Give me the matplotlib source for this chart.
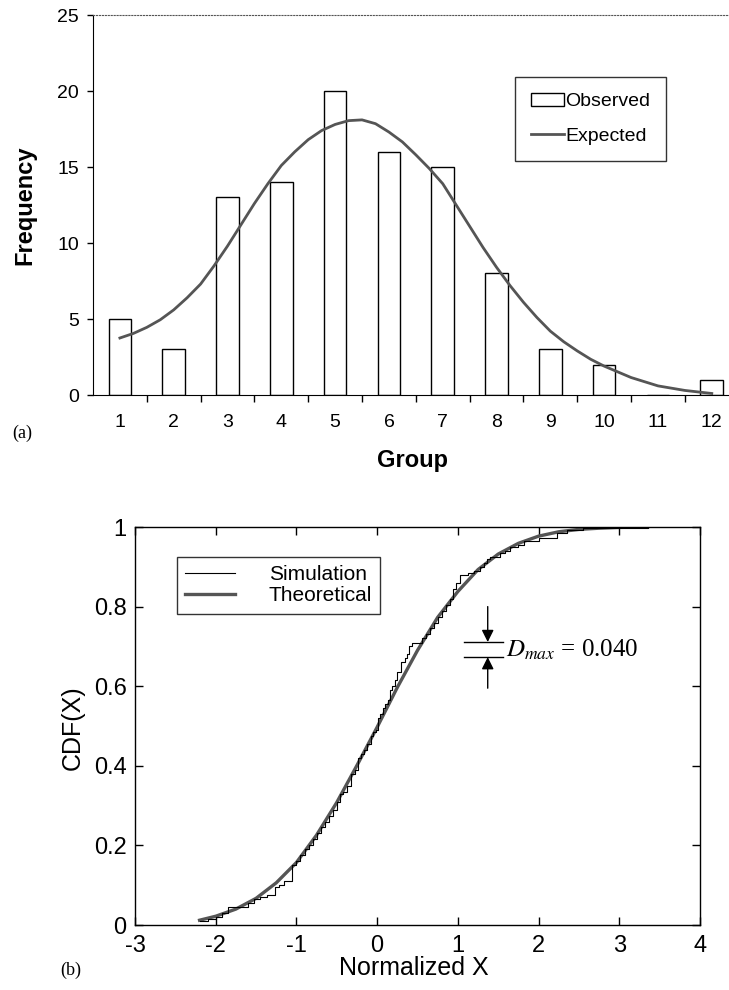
import numpy as np
import matplotlib
matplotlib.use("Agg")
import matplotlib.pyplot as plt
from matplotlib.ticker import FixedLocator

plt.rcParams["mathtext.fontset"] = "stix"
plt.rcParams["axes.unicode_minus"] = False

SANS   = ["Liberation Sans", "DejaVu Sans"]
NARROW = ["Liberation Sans Narrow", "Liberation Sans", "DejaVu Sans"]
SERIF  = ["Liberation Serif", "DejaVu Serif"]

# ── (a) histogram data ───────────────────────────────────────────────────────
groups   = [1, 2, 3, 4, 5, 6, 7, 8, 9, 10, 11, 12]
observed = [5, 3, 13, 14, 20, 16, 15, 8, 3, 2, 0, 1]

exp_x = [1, 1.25, 1.5, 1.75, 2, 2.25, 2.5, 2.75, 3, 3.25, 3.5, 3.75, 4, 4.25,
         4.5, 4.75, 5, 5.25, 5.5, 5.75, 6, 6.25, 6.5, 6.75, 7, 7.25, 7.5, 7.75,
         8, 8.25, 8.5, 8.75, 9, 9.25, 9.5, 9.75, 10, 10.5, 11, 11.5, 12]
exp_y = [3.75, 4.05, 4.45, 4.95, 5.6, 6.4, 7.3, 8.5, 9.8, 11.2, 12.6, 13.9,
         15.1, 16.0, 16.8, 17.4, 17.8, 18.05, 18.1, 17.85, 17.3, 16.65, 15.8,
         14.9, 13.9, 12.5, 11.1, 9.7, 8.4, 7.2, 6.1, 5.1, 4.2, 3.5, 2.9, 2.35,
         1.9, 1.15, 0.6, 0.3, 0.1]

# ── (b) CDF data ─────────────────────────────────────────────────────────────
sim_x = [-2.20, -2.10, -2.00, -1.92, -1.85, -1.60, -1.52, -1.45, -1.36, -1.27,
         -1.22, -1.15, -1.05, -1.00, -0.95, -0.90, -0.85, -0.80, -0.75, -0.70,
         -0.65, -0.60, -0.55, -0.50, -0.46, -0.42, -0.37, -0.32, -0.28, -0.24,
         -0.20, -0.16, -0.12, -0.08, -0.05, -0.02, 0.01, 0.04, 0.07, 0.10,
         0.13, 0.16, 0.19, 0.22, 0.25, 0.30, 0.34, 0.37, 0.40, 0.43, 0.56,
         0.60, 0.65, 0.70, 0.75, 0.80, 0.85, 0.90, 0.94, 0.98, 1.03, 1.13,
         1.20, 1.27, 1.32, 1.36, 1.40, 1.52, 1.58, 1.65, 1.75, 1.82, 2.00,
         2.23, 2.35, 2.55, 3.35]
sim_F = [0.010, 0.015, 0.020, 0.030, 0.045, 0.055, 0.065, 0.070, 0.075, 0.095,
         0.100, 0.110, 0.150, 0.160, 0.175, 0.190, 0.200, 0.215, 0.230, 0.245,
         0.260, 0.275, 0.290, 0.310, 0.330, 0.335, 0.350, 0.380, 0.390, 0.420,
         0.430, 0.440, 0.455, 0.475, 0.485, 0.490, 0.520, 0.530, 0.545, 0.555,
         0.565, 0.590, 0.600, 0.615, 0.636, 0.660, 0.670, 0.680, 0.700, 0.709,
         0.720, 0.730, 0.745, 0.760, 0.775, 0.790, 0.805, 0.820, 0.845, 0.860,
         0.880, 0.885, 0.890, 0.900, 0.910, 0.920, 0.925, 0.935, 0.940, 0.950,
         0.955, 0.965, 0.972, 0.985, 0.992, 0.997, 1.000]

theo_x = [-2.2, -2.0, -1.75, -1.5, -1.25, -1.0, -0.75, -0.5, -0.25, 0.0, 0.25,
          0.5, 0.75, 1.0, 1.25, 1.5, 1.75, 2.0, 2.25, 2.5, 2.75, 3.0, 3.35]
theo_F = [0.012, 0.022, 0.040, 0.067, 0.106, 0.157, 0.226, 0.308, 0.401, 0.497,
          0.597, 0.690, 0.773, 0.838, 0.893, 0.932, 0.959, 0.977, 0.988, 0.994,
          0.997, 0.999, 1.000]

W, H = 729, 990
fig = plt.figure(figsize=(W / 100, H / 100), dpi=100)

def fx(px): return px / W
def fy(py): return 1 - py / H

# ── (a) ──────────────────────────────────────────────────────────────────────
ax1 = fig.add_axes([fx(93), fy(395), 1 - fx(93), (395 - 15) / H])
bars = ax1.bar(groups, observed, width=0.42, facecolor="white", edgecolor="black",
               linewidth=1.0, label="Observed", zorder=2)
line, = ax1.plot(exp_x, exp_y, color="#555555", lw=2.0, label="Expected", zorder=3)
ax1.set_xlim(0.5, 12.32)
ax1.set_ylim(0, 25)
ax1.set_yticks([0, 5, 10, 15, 20, 25])
ax1.set_xticks(groups)
ax1.xaxis.set_minor_locator(FixedLocator(np.arange(1.5, 12, 1.0)))
ax1.tick_params(axis="x", which="major", length=0, pad=14, labelsize=14)
ax1.tick_params(axis="x", which="minor", length=5, width=1, direction="out")
ax1.tick_params(axis="y", length=4, width=1, direction="out", pad=6, labelsize=14)
for lab in ax1.get_xticklabels() + ax1.get_yticklabels():
    lab.set_family(SANS)
ax1.spines["right"].set_visible(False)
ax1.spines["top"].set_linestyle(":")
ax1.spines["top"].set_color("#555555")
leg1 = ax1.legend([bars, line], ["Observed", "Expected"], loc="upper left",
                  bbox_to_anchor=(fx(515), fy(77)),
                  bbox_transform=fig.transFigure, frameon=True, fancybox=False,
                  edgecolor="black", prop={"family": SANS, "size": 14},
                  handlelength=1.7, handletextpad=0.1, labelspacing=0.9,
                  borderpad=0.8, borderaxespad=0)
leg1.get_frame().set_linewidth(1.0)

fig.text(fx(25), fy(205), "Frequency", rotation=90, ha="center", va="center",
         family=SANS, fontsize=17, fontweight="bold")
fig.text(fx(412), fy(461), "Group", ha="center", va="center",
         family=SANS, fontsize=17, fontweight="bold")
fig.text(fx(12), fy(433), "(a)", ha="left", va="center", family=SERIF, fontsize=13)

# ── (b) ──────────────────────────────────────────────────────────────────────
ax2 = fig.add_axes([fx(135), fy(925), (700 - 135) / W, (925 - 527) / H])
ax2.plot(sim_x, sim_F, drawstyle="steps-post", color="black", lw=0.8,
         label="Simulation", zorder=3)
ax2.plot(theo_x, theo_F, color="#555555", lw=2.4, label="Theoretical", zorder=2)
ax2.set_xlim(-3, 4)
ax2.set_ylim(0, 1)
ax2.set_xticks(range(-3, 5))
ax2.set_yticks([0, 0.2, 0.4, 0.6, 0.8, 1.0])
ax2.set_yticklabels(["0", "0.2", "0.4", "0.6", "0.8", "1"])
ax2.tick_params(direction="in", length=6, width=1, top=True, right=True,
                labelsize=17)
ax2.tick_params(axis="x", pad=7)
ax2.tick_params(axis="y", pad=6)
for lab in ax2.get_xticklabels() + ax2.get_yticklabels():
    lab.set_family(NARROW)
for s in ax2.spines.values():
    s.set_linewidth(1.0)

leg2 = ax2.legend(loc="upper left", bbox_to_anchor=(fx(177), fy(557)),
                  bbox_transform=fig.transFigure, frameon=True, fancybox=False,
                  edgecolor="black", prop={"family": NARROW, "size": 15},
                  handlelength=2.4, handletextpad=1.6, labelspacing=0.1,
                  borderpad=0.4, borderaxespad=0)
leg2.get_frame().set_linewidth(1.0)

# D_max marker
ax2.plot([1.076, 1.56], [0.711, 0.711], color="black", lw=1.0)
ax2.plot([1.076, 1.56], [0.673, 0.673], color="black", lw=1.0)
ax2.annotate("", xy=(1.37, 0.711), xytext=(1.37, 0.80),
             arrowprops=dict(arrowstyle="-|>", color="black", lw=1.0,
                             mutation_scale=18, shrinkA=0, shrinkB=0))
ax2.annotate("", xy=(1.37, 0.673), xytext=(1.37, 0.595),
             arrowprops=dict(arrowstyle="-|>", color="black", lw=1.0,
                             mutation_scale=18, shrinkA=0, shrinkB=0))
ax2.text(1.6, 0.692, r"$D_{max}$ = 0.040", ha="left", va="center",
         family=SERIF, fontsize=18)

fig.text(fx(73), fy(728), "CDF(X)", rotation=90, ha="center", va="center",
         family=NARROW, fontsize=18)
fig.text(fx(414), fy(968), "Normalized X", ha="center", va="center",
         family=NARROW, fontsize=18)
fig.text(fx(60), fy(970), "(b)", ha="left", va="center", family=SERIF, fontsize=13)

fig.savefig("out.png", dpi=100)
